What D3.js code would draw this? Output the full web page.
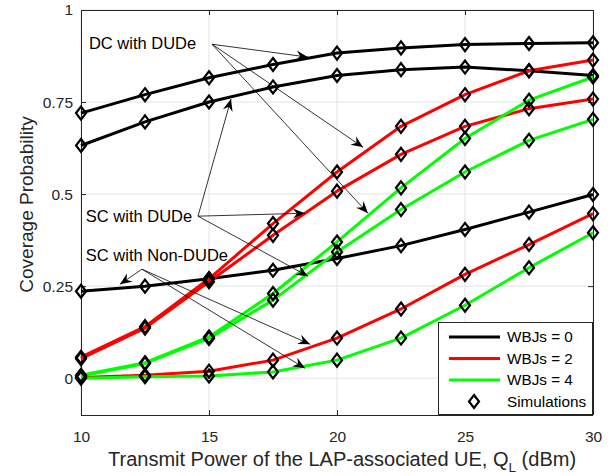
<!DOCTYPE html>
<html><head><meta charset="utf-8">
<script src="https://cdn.jsdelivr.net/npm/d3@7"></script>
<style>body{margin:0;background:#fff}svg{display:block;font-family:"Liberation Sans",Arial,sans-serif}</style>
</head><body><svg id="c" width="613" height="476"></svg>
<script>
const xValues = [10, 12.5, 15, 17.5, 20, 22.5, 25, 27.5, 30];
const dcWbj0 = [0.72, 0.77, 0.816, 0.852, 0.883, 0.897, 0.906, 0.909, 0.911];
const scDudeWbj0 = [0.632, 0.696, 0.750, 0.791, 0.822, 0.838, 0.845, 0.835, 0.822];
const dcWbj2 = [0.057, 0.140, 0.270, 0.420, 0.560, 0.684, 0.770, 0.835, 0.864];
const scDudeWbj2 = [0.053, 0.136, 0.262, 0.388, 0.508, 0.608, 0.684, 0.732, 0.758];
const dcWbj4 = [0.008, 0.042, 0.112, 0.230, 0.370, 0.517, 0.651, 0.755, 0.818];
const scDudeWbj4 = [0.006, 0.040, 0.108, 0.212, 0.343, 0.458, 0.560, 0.646, 0.703];
const nonDudeWbj0 = [0.236, 0.250, 0.270, 0.293, 0.325, 0.360, 0.404, 0.451, 0.499];
const nonDudeWbj2 = [0.002, 0.008, 0.019, 0.049, 0.109, 0.188, 0.282, 0.363, 0.447];
const nonDudeWbj4 = [0.000, 0.004, 0.006, 0.017, 0.049, 0.109, 0.198, 0.300, 0.395];
const xTicks = [10, 15, 20, 25, 30];
const yTicks = [0, 0.25, 0.5, 0.75, 1];
const yTickLabels = ["0", "0.25", "0.5", "0.75", "1"];
const legendLabels = ["WBJs = 0", "WBJs = 2", "WBJs = 4", "Simulations"];
const seriesColors = ["#000000", "#ff0000", "#00ff00"];
// annotations in data coordinates: label, anchor, arrow tips
const annotations = [
  {text: "DC with DUDe", tx: 10.31, ty: 0.91, ax: 15.12, ay: 0.907,
   tips: [[18.87, 0.872], [21.02, 0.627], [21.21, 0.448]]},
  {text: "SC with DUDe", tx: 10.19, ty: 0.44, ax: 14.57, ay: 0.44,
   tips: [[15.86, 0.758], [18.75, 0.448], [18.87, 0.277]]},
  {text: "SC with Non-DUDe", tx: 10.19, ty: 0.334, ax: 12.38, ay: 0.296,
   tips: [[11.52, 0.255], [18.95, 0.092], [18.75, 0.027]]}
];

const series = [
  {vals: dcWbj0, c: 0}, {vals: scDudeWbj0, c: 0}, {vals: nonDudeWbj0, c: 0},
  {vals: dcWbj2, c: 1}, {vals: scDudeWbj2, c: 1}, {vals: nonDudeWbj2, c: 1},
  {vals: dcWbj4, c: 2}, {vals: scDudeWbj4, c: 2}, {vals: nonDudeWbj4, c: 2}
];

const L = 81, R = 593, T = 10, B = 415;
const x = d3.scaleLinear().domain([10, 30]).range([L, R]);
const y = d3.scaleLinear().domain([-0.1, 1]).range([B, T]);
const svg = d3.select("#c");
const axisColor = "#262626";

// grid
svg.append("g").selectAll("line").data(xTicks).join("line")
  .attr("x1", d => x(d)).attr("x2", d => x(d)).attr("y1", T).attr("y2", B)
  .attr("stroke", "#e3e3e3").attr("stroke-width", 1);
svg.append("g").selectAll("line").data(yTicks).join("line")
  .attr("x1", L).attr("x2", R).attr("y1", d => y(d)).attr("y2", d => y(d))
  .attr("stroke", "#e3e3e3").attr("stroke-width", 1);

// axes
const gx = svg.append("g").attr("transform", `translate(0,${B})`)
  .call(d3.axisBottom(x).tickValues(xTicks).tickSize(-5).tickPadding(16).tickFormat(d3.format("d")));
const gy = svg.append("g").attr("transform", `translate(${L},0)`)
  .call(d3.axisLeft(y).tickValues(yTicks).tickSize(-5).tickPadding(8).tickFormat((d, i) => yTickLabels[i]));
const gxt = svg.append("g").attr("transform", `translate(0,${T})`)
  .call(d3.axisTop(x).tickValues(xTicks).tickSize(-5).tickFormat(""));
const gyr = svg.append("g").attr("transform", `translate(${R},0)`)
  .call(d3.axisRight(y).tickValues(yTicks).tickSize(-5).tickFormat(""));
[gx, gy, gxt, gyr].forEach(g => {
  g.select(".domain").attr("stroke", axisColor).attr("stroke-width", 1);
  g.selectAll(".tick line").attr("stroke", axisColor);
  g.selectAll(".tick text").attr("fill", axisColor).attr("font-size", 15.5)
    .attr("font-family", "Liberation Sans, Arial, sans-serif");
});
gx.selectAll(".domain").attr("d", `M${L},0.5H${R}`);
gxt.selectAll(".domain").attr("d", `M${L},0.5H${R}`);
gy.selectAll(".domain").attr("d", `M0.5,${T}V${B}`);
gyr.selectAll(".domain").attr("d", `M0.5,${T}V${B}`);

// lines
const line = d3.line().x((d, i) => x(xValues[i])).y(d => y(d));
svg.append("g").selectAll("path").data(series).join("path")
  .attr("d", d => line(d.vals)).attr("fill", "none")
  .attr("stroke", d => seriesColors[d.c]).attr("stroke-width", 3)
  .attr("stroke-linejoin", "round");

// markers
const diamond = "M0,-6.5L5,0L0,6.5L-5,0Z";
const pts = [];
series.forEach(s => s.vals.forEach((v, i) => pts.push([xValues[i], v])));
svg.append("g").selectAll("path").data(pts).join("path")
  .attr("d", diamond).attr("transform", d => `translate(${x(d[0])},${y(d[1])})`)
  .attr("fill", "none").attr("stroke", "#000").attr("stroke-width", 2.2);

// annotations
const ann = svg.append("g");
function arrowHead(x1, y1, x2, y2) {
  const a = Math.atan2(y2 - y1, x2 - x1);
  const len = 12, w = 5, back = 8;
  const p = (dx, dy) => [x2 + dx * Math.cos(a) - dy * Math.sin(a), y2 + dx * Math.sin(a) + dy * Math.cos(a)];
  const q = [p(0, 0), p(-len, -w), p(-back, 0), p(-len, w)];
  return "M" + q.map(v => v.join(",")).join("L") + "Z";
}
annotations.forEach(a => {
  ann.append("text").attr("x", x(a.tx)).attr("y", y(a.ty)).attr("dy", "0.35em")
    .attr("font-size", 16.5).attr("fill", "#000").text(a.text);
  a.tips.forEach(t => {
    const x1 = x(a.ax), y1 = y(a.ay), x2 = x(t[0]), y2 = y(t[1]);
    ann.append("line").attr("x1", x1).attr("y1", y1).attr("x2", x2).attr("y2", y2)
      .attr("stroke", "#000").attr("stroke-width", 0.8);
    ann.append("path").attr("d", arrowHead(x1, y1, x2, y2)).attr("fill", "#000");
  });
});

// axis labels
svg.append("text").attr("x", 108).attr("y", 466).attr("text-anchor", "start")
  .attr("font-size", 20).attr("fill", axisColor)
  .html('Transmit Power of the LAP-associated UE, Q<tspan dy="6" font-size="13.5">L</tspan><tspan dy="-6"> (dBm)</tspan>');
svg.append("text").attr("transform", `translate(33,${(T + B) / 2 - 8}) rotate(-90)`)
  .attr("text-anchor", "middle").attr("font-size", 19).attr("fill", axisColor)
  .text("Coverage Probability");

// legend
const lg = svg.append("g").attr("transform", "translate(438,322)");
lg.append("rect").attr("x", 0.5).attr("y", 0.5).attr("width", R - 438 - 1).attr("height", B - 322 - 1)
  .attr("fill", "#fff").attr("stroke", axisColor).attr("stroke-width", 1);
legendLabels.forEach((lab, i) => {
  const yy = 15 + i * 21.5;
  if (i < 3) {
    lg.append("line").attr("x1", 11).attr("x2", 62).attr("y1", yy).attr("y2", yy)
      .attr("stroke", seriesColors[i]).attr("stroke-width", 3);
  } else {
    lg.append("path").attr("d", diamond).attr("transform", `translate(36,${yy})`)
      .attr("fill", "none").attr("stroke", "#000").attr("stroke-width", 2.2);
  }
  lg.append("text").attr("x", 69).attr("y", yy).attr("dy", "0.35em").attr("font-size", 15.3)
    .attr("fill", "#000").text(lab);
});
</script></body></html>
